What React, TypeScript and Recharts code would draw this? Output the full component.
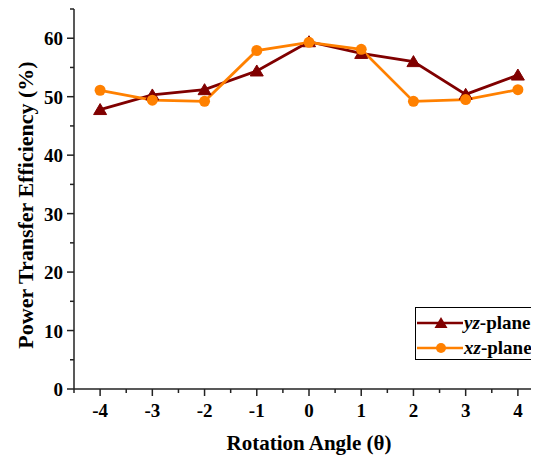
import React from "react";
import { LineChart, Line, XAxis, YAxis } from "recharts";

const angles = [-4, -3, -2, -1, 0, 1, 2, 3, 4];
const yzPlane = [47.8, 50.3, 51.2, 54.4, 59.4, 57.4, 56.0, 50.4, 53.7];
const xzPlane = [51.1, 49.4, 49.2, 57.9, 59.3, 58.1, 49.2, 49.5, 51.2];
const xTicks = [-4.5, -4, -3.5, -3, -2.5, -2, -1.5, -1, -0.5, 0, 0.5, 1, 1.5, 2, 2.5, 3, 3.5, 4, 4.5];
const yTicks = [0, 5, 10, 15, 20, 25, 30, 35, 40, 45, 50, 55, 60, 65];

const data = angles.map((a, i) => ({ angle: a, yz: yzPlane[i], xz: xzPlane[i] }));

const DARK_RED = "#800000";
const ORANGE = "#FF8000";
const FONT = "'Liberation Serif', 'Times New Roman', serif";

const XTick = (props: any) => {
  const { x, y, payload } = props;
  const major = Number.isInteger(payload.value);
  return (
    <g>
      <line x1={x} y1={y} x2={x} y2={y + (major ? 7 : 4)} stroke="#222" strokeWidth={1.5} />
      {major && (
        <text x={x} y={y + 28} textAnchor="middle" fontFamily={FONT} fontWeight="bold" fontSize={19} fill="#000">
          {payload.value}
        </text>
      )}
    </g>
  );
};

const YTick = (props: any) => {
  const { x, y, payload } = props;
  const major = payload.value % 10 === 0;
  return (
    <g>
      <line x1={x} y1={y} x2={x - (major ? 7 : 4)} y2={y} stroke="#222" strokeWidth={1.5} />
      {major && (
        <text x={x - 11} y={y + 7} textAnchor="end" fontFamily={FONT} fontWeight="bold" fontSize={19} fill="#000">
          {payload.value}
        </text>
      )}
    </g>
  );
};

const Triangle = (props: any) => {
  const { cx, cy } = props;
  if (cx == null || cy == null) return null;
  return (
    <polygon
      key={`t-${cx}`}
      points={`${cx},${cy - 6} ${cx - 6.5},${cy + 5} ${cx + 6.5},${cy + 5}`}
      fill={DARK_RED}
      stroke={DARK_RED}
    />
  );
};

const legendItems = [
  { name: "yz", color: DARK_RED, tri: true },
  { name: "xz", color: ORANGE, tri: false },
];

const LegendBox = () => (
  <div
    style={{
      position: "absolute",
      left: 407,
      top: 299,
      border: "1px solid #000",
      background: "#fff",
      width: 122,
      height: 53,
      boxSizing: "border-box",
      fontFamily: FONT,
      fontWeight: "bold",
      fontSize: 19,
    }}
  >
    {legendItems.map((it, i) => (
      <div key={it.name} style={{ display: "flex", alignItems: "center", height: 25, marginTop: i === 0 ? 2 : 0 }}>
        <svg width={47} height={14} style={{ marginLeft: 1, flex: "none" }}>
          <line x1={0} y1={7} x2={46} y2={7} stroke={it.color} strokeWidth={2.5} />
          {it.tri ? (
            <polygon points="24,1 17.5,12 30.5,12" fill={it.color} />
          ) : (
            <circle cx={24} cy={7} r={5} fill={it.color} />
          )}
        </svg>
        <span style={{ color: "#000", whiteSpace: "nowrap" }}>
          <i>{it.name}</i>-plane
        </span>
      </div>
    ))}
  </div>
);

export default function App() {
  return (
    <div style={{ position: "relative", width: 531, height: 451, overflow: "hidden", background: "#fff" }}>
      <LineChart width={560} height={451} data={data} margin={{ top: 1, right: 24, left: 0, bottom: 0 }}>
        <XAxis
          dataKey="angle"
          type="number"
          domain={[-4.5, 4.5]}
          ticks={xTicks}
          interval={0}
          height={70}
          tickSize={0}
          tickMargin={0}
          tickLine={false}
          tick={<XTick />}
          axisLine={{ stroke: "#222", strokeWidth: 1.5 }}
          label={{
            content: () => (
              <text x={301} y={442} textAnchor="middle" fontFamily={FONT} fontWeight="bold" fontSize={21} fill="#000">
                Rotation Angle (θ)
              </text>
            ),
          }}
        />
        <YAxis
          type="number"
          domain={[0, 65]}
          ticks={yTicks}
          interval={0}
          width={66}
          tickSize={0}
          tickMargin={0}
          tickLine={false}
          tick={<YTick />}
          axisLine={{ stroke: "#222", strokeWidth: 1.5 }}
          label={{
            content: () => {
              const cx = 25;
              const cy = 197;
              return (
                <text x={cx} y={cy} transform={`rotate(-90 ${cx} ${cy})`} textAnchor="middle" fontFamily={FONT} fontWeight="bold" fontSize={22} fill="#000">
                  Power Transfer Efficiency (%)
                </text>
              );
            },
          }}
        />
        <Line
          dataKey="yz"
          name="yz-plane"
          stroke={DARK_RED}
          strokeWidth={2.8}
          dot={<Triangle />}
          isAnimationActive={false}
        />
        <Line
          dataKey="xz"
          name="xz-plane"
          stroke={ORANGE}
          strokeWidth={2.8}
          dot={{ r: 5.5, fill: ORANGE, stroke: ORANGE, strokeWidth: 0 }}
          isAnimationActive={false}
        />
      </LineChart>
      <LegendBox />
    </div>
  );
}
